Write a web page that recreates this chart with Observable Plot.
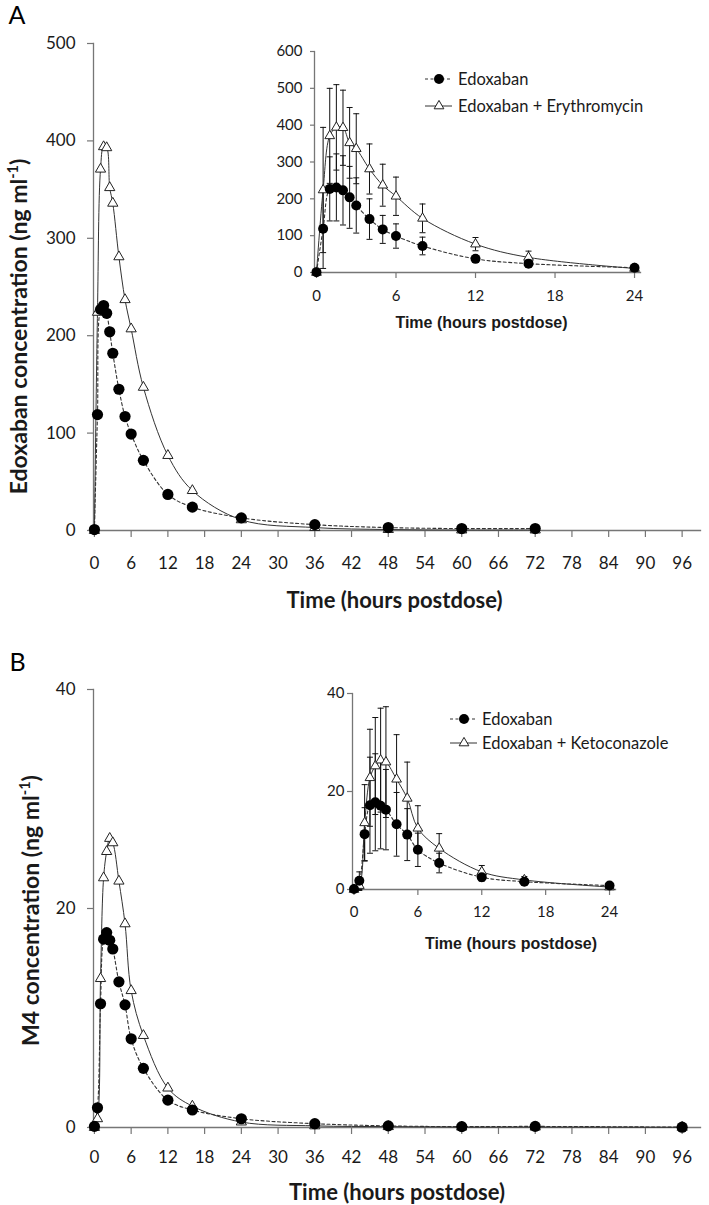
<!DOCTYPE html>
<html>
<head>
<meta charset="utf-8">
<script src="https://cdn.jsdelivr.net/npm/d3@7"></script>
<script src="https://cdn.jsdelivr.net/npm/@observablehq/plot@0.6"></script>
<style>
  body { margin: 0; background: #fff; }
  #wrap { position: relative; width: 709px; height: 1205px; overflow: hidden; font-family: Lato, sans-serif; }
  #wrap > svg { position: absolute; background: transparent; }
</style>
</head>
<body>
<div id="wrap"></div>
<script>
// ---------- data ----------
const timesA = [0, 0.5, 1, 1.5, 2, 2.5, 3, 4, 5, 6, 8, 12, 16, 24, 36, 48, 60, 72];
const edoxabanA = [1, 119, 227, 231, 223, 204, 182, 145, 117, 99, 72, 37, 24, 13, 6, 3, 2, 2];
const edoxabanA_sd = [0, 108, 87, 91, 94, 84, 75, 55, 38, 33, 24, 8, 5, 4, 2, 1, 1, 1];
const erythroA = [0, 224, 371, 394, 393, 352, 336, 281, 237, 207, 147, 77, 41, 11, 3, 1, 0.5, 0.5];
const erythroA_sd = [0, 170, 129, 116, 102, 96, 95, 68, 57, 52, 39, 18, 17, 5, 1, 0.5, 0.3, 0.3];

const timesB = [0, 0.5, 1, 1.5, 2, 2.5, 3, 4, 5, 6, 8, 12, 16, 24, 36, 48, 60, 72, 96];
const edoxabanB = [0.1, 1.8, 11.3, 17.2, 17.8, 17.1, 16.3, 13.3, 11.2, 8.1, 5.4, 2.5, 1.6, 0.8, 0.35, 0.15, 0.08, 0.1, 0.03];
const edoxabanB_sd = [0, 1.8, 5.4, 9.8, 9.9, 8.8, 8.2, 6.5, 5.3, 3.4, 2.0, 0.8, 0.5, 0.3, 0.2, 0.1, 0.05, 0.05, 0.02];
const ketoB = [0, 0.8, 13.6, 22.8, 25.2, 26.4, 26.0, 22.5, 18.6, 12.5, 8.4, 3.6, 1.95, 0.5, 0.15, 0.08, 0.04, 0.04, 0.02];
const ketoB_sd = [0, 1.0, 7.8, 9.9, 9.9, 10.6, 11.3, 9.1, 7.4, 4.6, 3.0, 1.3, 0.7, 0.3, 0.1, 0.05, 0.03, 0.03, 0.01];

const mainXTicks = [0, 6, 12, 18, 24, 30, 36, 42, 48, 54, 60, 66, 72, 78, 84, 90, 96];
const insetXTicks = [0, 6, 12, 18, 24];
const yTicksA = [0, 100, 200, 300, 400, 500];
const insetYTicksA = [0, 100, 200, 300, 400, 500, 600];
const yTicksB = [0, 20, 40];
const insetYTicksB = [0, 20, 40];

const xTitle = "Time (hours postdose)";
const yLabelA = "Edoxaban concentration (ng ml-1)";
const yLabelB = "M4 concentration (ng ml-1)";
const legendA = ["Edoxaban", "Edoxaban + Erythromycin"];
const legendB = ["Edoxaban", "Edoxaban + Ketoconazole"];

// ---------- helpers ----------
const rows = (t, v, sd) => t.map((x, i) => ({t: x, v: v[i], sd: sd[i]}));
const AXIS = "#767676", LINE = "#333", TEXT = "#1a1a1a";
const DASH = "3,2.5";
const cap = { draw(ctx, size) { const w = Math.sqrt(size / Math.PI); ctx.moveTo(-w, 0); ctx.lineTo(w, 0); } };
const wrap = document.getElementById("wrap");

function superscript(svg) {
  const ns = "http://www.w3.org/2000/svg";
  svg.querySelectorAll("text").forEach(t => {
    const s = t.textContent;
    const i = s.indexOf("ml-1)");
    if (i < 0 || t.children.length) return;
    t.textContent = "";
    const a = document.createElementNS(ns, "tspan"); a.textContent = s.slice(0, i + 2); t.appendChild(a);
    const b = document.createElementNS(ns, "tspan"); b.textContent = "-1"; b.setAttribute("font-size", "14.5"); b.setAttribute("dy", "-8.5"); t.appendChild(b);
    const c = document.createElementNS(ns, "tspan"); c.textContent = ")"; c.setAttribute("dy", "8.5"); t.appendChild(c);
  });
}

function mainPanel(o) {
  const svg = Plot.plot({
    width: 709, height: o.height,
    marginLeft: 93, marginRight: 9, marginTop: o.mt, marginBottom: o.mb,
    x: {domain: [-0.15, 99]},
    y: {domain: o.yDomain},
    style: {fontFamily: "Lato, sans-serif", background: "transparent", color: TEXT, overflow: "visible"},
    marks: [
      Plot.axisX({ticks: mainXTicks, tickSize: 7, tickPadding: o.xPad, fontSize: 17, label: null, stroke: AXIS, strokeWidth: 1.2, fill: TEXT}),
      Plot.axisY({ticks: o.yTicks, tickSize: 6, tickPadding: 12, fontSize: 17, label: null, stroke: AXIS, strokeWidth: 1.2, fill: TEXT}),
      Plot.frame({anchor: "left", stroke: AXIS, strokeWidth: 1.3}),
      Plot.frame({anchor: "bottom", stroke: AXIS, strokeWidth: 1.3}),
      Plot.line(o.combo, {x: "t", y: "v", curve: "catmull-rom", stroke: LINE, strokeWidth: 1}),
      Plot.line(o.alone, {x: "t", y: "v", curve: "catmull-rom", stroke: LINE, strokeWidth: 1.1, strokeDasharray: DASH}),
      Plot.dot(o.combo, {x: "t", y: "v", symbol: "triangle", r: 3.8, fill: "white", stroke: "#222", strokeWidth: 1}),
      Plot.dot(o.alone, {x: "t", y: "v", r: 5.6, fill: "black"}),
      Plot.text([o.yLabel], {text: d => d, frameAnchor: "left", rotate: -90, dx: o.ylDx, dy: o.ylDy, fontSize: 23, fontWeight: "bold", fill: TEXT, textAnchor: "middle", lineAnchor: "middle"}),
      Plot.text([xTitle], {text: d => d, frameAnchor: "bottom", dx: o.xtDx, dy: o.xtDy, fontSize: 22, fontWeight: "bold", fill: TEXT, textAnchor: "middle", lineAnchor: "middle"}),
      Plot.text([o.letter], {text: d => d, frameAnchor: "top-left", dx: o.lDx, dy: o.lDy, fontSize: 25, fill: "#000", textAnchor: "middle", lineAnchor: "middle"})
    ]
  });
  superscript(svg);
  svg.style.left = "0px";
  svg.style.top = o.top + "px";
  wrap.appendChild(svg);
}

function insetPanel(o) {
  const alone = o.alone.filter(d => d.t <= 24);
  const combo = o.combo.filter(d => d.t <= 24);
  const bars = [...alone, ...combo].filter(d => d.sd > 0);
  const svg = Plot.plot({
    width: o.width, height: o.height,
    marginLeft: o.ml, marginRight: o.mr, marginTop: o.mt, marginBottom: o.mb,
    x: {domain: o.xDomain},
    y: {domain: o.yDomain},
    style: {fontFamily: "Lato, sans-serif", background: "transparent", color: TEXT, overflow: "visible"},
    marks: [
      Plot.axisX({ticks: insetXTicks, tickSize: 6, tickPadding: o.xPad, fontSize: 15, label: null, stroke: AXIS, strokeWidth: 1.2, fill: TEXT}),
      Plot.axisY({ticks: o.yTicks, tickSize: o.yTick, tickPadding: o.yPad, fontSize: 15, label: null, stroke: AXIS, strokeWidth: 1.2, fill: TEXT}),
      Plot.frame({anchor: "left", stroke: AXIS, strokeWidth: 1.3}),
      Plot.frame({anchor: "bottom", stroke: AXIS, strokeWidth: 1.3}),
      Plot.ruleX(bars, {x: "t", y1: d => d.v - d.sd, y2: d => d.v + d.sd, stroke: "#111", strokeWidth: 1}),
      Plot.dot(bars, {x: "t", y: d => d.v + d.sd, symbol: cap, r: 3, stroke: "#111", fill: "none", strokeWidth: 1}),
      Plot.dot(bars, {x: "t", y: d => d.v - d.sd, symbol: cap, r: 3, stroke: "#111", fill: "none", strokeWidth: 1}),
      Plot.line(combo, {x: "t", y: "v", curve: "catmull-rom", stroke: LINE, strokeWidth: 1}),
      Plot.line(alone, {x: "t", y: "v", curve: "catmull-rom", stroke: LINE, strokeWidth: 1.1, strokeDasharray: DASH}),
      Plot.dot(combo, {x: "t", y: "v", symbol: "triangle", r: 3.6, fill: "white", stroke: "#222", strokeWidth: 1}),
      Plot.dot(alone, {x: "t", y: "v", r: 5, fill: "black"}),
      Plot.text([xTitle], {text: d => d, frameAnchor: "bottom", dx: o.tDx, dy: o.tDy, fontSize: 16, fontWeight: "bold", fontFamily: "Liberation Sans, Arial, sans-serif", fill: TEXT, textAnchor: "middle", lineAnchor: "middle"})
    ]
  });
  svg.style.left = o.left + "px";
  svg.style.top = o.top + "px";
  wrap.appendChild(svg);
}

// legend overlay (not data marks)
function legend(svg, o) {
  o.labels.forEach((label, i) => {
    const y = o.y0 + i * o.dy;
    svg.append("line").attr("x1", o.x1).attr("x2", o.x2).attr("y1", y).attr("y2", y)
      .attr("stroke", LINE).attr("stroke-width", i === 0 ? 1.1 : 1).attr("stroke-dasharray", i === 0 ? DASH : null);
    if (i === 0) {
      svg.append("circle").attr("cx", o.xm).attr("cy", y).attr("r", 5).attr("fill", "black");
    } else {
      svg.append("path").attr("transform", `translate(${o.xm},${y})`)
        .attr("d", d3.symbol(d3.symbolTriangle, 3.6 * 3.6 * Math.PI)())
        .attr("fill", "white").attr("stroke", "#222").attr("stroke-width", 1);
    }
    svg.append("text").attr("x", o.xt).attr("y", y).attr("dy", "0.35em")
      .attr("font-family", "Lato, sans-serif").attr("font-size", 16.5).attr("fill", TEXT).text(label);
  });
}

// ---------- panels ----------
const aAlone = rows(timesA, edoxabanA, edoxabanA_sd);
const aCombo = rows(timesA, erythroA, erythroA_sd);
const bAlone = rows(timesB, edoxabanB, edoxabanB_sd);
const bCombo = rows(timesB, ketoB, ketoB_sd);

mainPanel({top: 0, height: 615, mt: 43, mb: 85, yDomain: [0, 500], yTicks: yTicksA, xPad: 19,
  alone: aAlone, combo: aCombo, yLabel: yLabelA, ylDx: -74, ylDy: 39.5, xtDx: -2.5, xtDy: 70,
  letter: "A", lDx: -76.5, lDy: -27.5});

mainPanel({top: 615, height: 590, mt: 74, mb: 78, yDomain: [0, 40], yTicks: yTicksB, xPad: 16,
  alone: bAlone, combo: bCombo, yLabel: yLabelB, ylDx: -62, ylDy: 2, xtDx: 0, xtDy: 65,
  letter: "B", lDx: -76, lDy: -27});

insetPanel({left: 260, top: 30, width: 400, height: 310, ml: 54, mr: 20, mt: 21, mb: 68,
  xDomain: [-0.15, 24.45], yDomain: [0, 600], yTicks: insetYTicksA, yTick: 4, yPad: 8, xPad: 12,
  alone: aAlone, combo: aCombo, tDx: 4, tDy: 50});

insetPanel({left: 290, top: 670, width: 350, height: 290, ml: 62, mr: 25, mt: 23, mb: 71,
  xDomain: [-0.14, 24.56], yDomain: [0, 40], yTicks: insetYTicksB, yTick: 5, yPad: 3, xPad: 11,
  alone: bAlone, combo: bCombo, tDx: 27, tDy: 54});

const overlay = d3.select(wrap).append("svg").attr("width", 709).attr("height", 1205)
  .style("left", "0px").style("top", "0px").style("pointer-events", "none");
legend(overlay, {labels: legendA, x1: 425, x2: 452, xm: 439, xt: 458, y0: 79, dy: 27});
legend(overlay, {labels: legendB, x1: 450, x2: 477, xm: 464, xt: 482, y0: 719, dy: 24});
</script>
</body>
</html>
